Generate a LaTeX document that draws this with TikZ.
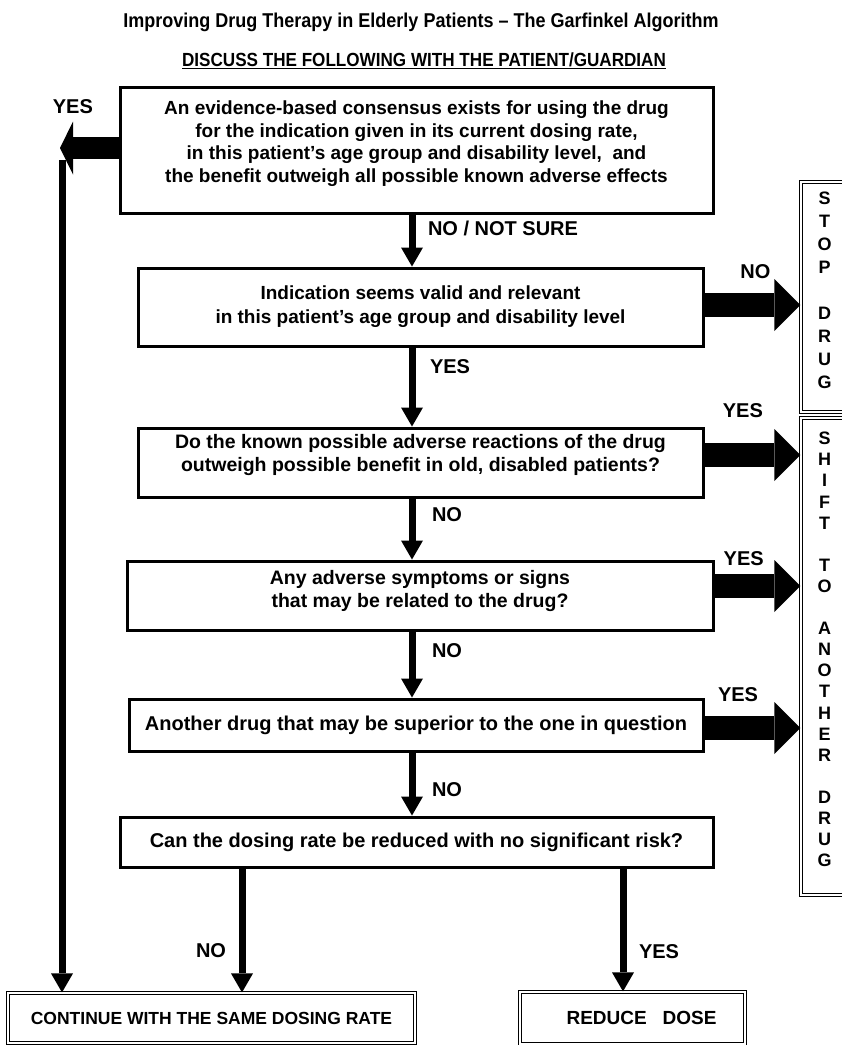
\documentclass[tikz,border=0pt]{standalone}
\usepackage{fontspec}
\setmainfont{Liberation Sans}
\newfontfamily\narrowfont[FakeStretch=0.9]{Liberation Sans}
\usetikzlibrary{arrows.meta,positioning,calc}
% lift a stack of centred lines inside a box
\newcommand{\liftby}[2]{\raisebox{#1}[\height][\depth]{\begin{tabular}{@{}c@{}}#2\end{tabular}}}

\begin{document}
\begin{tikzpicture}[x=1pt, y=-1pt,
  qbox/.style={draw, line width=3pt, align=center, inner sep=0pt,
               font=\fontsize{19.5}{23.5}\selectfont\bfseries},
  endbox/.style={draw, double, double distance=2pt, line width=1.2pt,
                 align=center, inner sep=0pt,
                 font=\fontsize{17.5}{21}\selectfont\bfseries},
  lbl/.style={font=\fontsize{20}{24}\selectfont\bfseries, inner sep=0pt, outer sep=0pt},
  downarr/.style={line width=7pt,
                  -{Triangle[length=19pt, width=22pt, line width=0pt]}},
  bigarr/.style={line width=24pt,
                 -{Triangle[length=26pt, width=52pt, line width=0pt]}}
]
\useasboundingbox (0,0) rectangle (842,1045);

%% Headings
\node[font=\narrowfont\fontsize{20}{24}\selectfont\bfseries] (title) at (421,22)
  {Improving Drug Therapy in Elderly Patients – The Garfinkel Algorithm};
\node[font=\narrowfont\fontsize{19}{24}\selectfont\bfseries] (discuss) at (424,61)
  {\underline{DISCUSS THE FOLLOWING WITH THE PATIENT/GUARDIAN}};

%% Question boxes
\node[qbox, minimum width=593pt, minimum height=126pt,
      font=\fontsize{19}{22.5}\selectfont\bfseries] (consensus) at (416.5,150)
  {\liftby{6pt}{An evidence-based consensus exists for using the drug\\
   for the indication given in its current dosing rate,\\
   in this patient’s age group and disability level,\ \ and\\
   the benefit outweigh all possible known adverse effects}};
\node[qbox, minimum width=565pt, minimum height=78pt,
      font=\fontsize{19}{24}\selectfont\bfseries] (indication) at (420.5,307)
  {Indication seems valid and relevant\\
   in this patient’s age group and disability level};
\node[qbox, minimum width=565pt, minimum height=69pt] (adverse) at (420.5,462.5)
  {\liftby{7pt}{Do the known possible adverse reactions of the drug\\
   outweigh possible benefit in old, disabled patients?}};
\node[qbox, minimum width=586pt, minimum height=69pt] (symptoms) at (420,595.5)
  {\liftby{4pt}{Any adverse symptoms or signs\\
   that may be related to the drug?}};
\node[qbox, minimum width=574pt, minimum height=52pt,
      font=\fontsize{20}{24}\selectfont\bfseries] (superior) at (416,725)
  {Another drug that may be superior to the one in question};
\node[qbox, minimum width=593pt, minimum height=50pt,
      font=\fontsize{20}{24}\selectfont\bfseries] (dosing) at (416.5,842)
  {Can the dosing rate be reduced with no significant risk?};

%% Outcome boxes
\node[endbox, minimum width=407pt, minimum height=50pt] (continue) at (211.5,1018)
  {CONTINUE WITH THE SAME DOSING RATE};
\node[endbox, minimum width=225pt, minimum height=52pt,
      font=\fontsize{19}{23}\selectfont\bfseries] (reduce) at (632.5,1018)
  {\hspace*{18pt}REDUCE\ \ \ DOSE};
\node[endbox, minimum width=47pt, minimum height=230pt,
      font=\fontsize{18}{23}\selectfont\bfseries] (stop) at (824.5,297)
  {\liftby{5pt}{S\\T\\O\\P\\[23pt]D\\R\\U\\G}};
\node[endbox, minimum width=47pt, minimum height=477pt,
      font=\fontsize{18}{21.1}\selectfont\bfseries] (shift) at (824.5,656.5)
  {\liftby{5pt}{S\\H\\I\\F\\T\\[21.1pt]T\\O\\[21.1pt]A\\N\\O\\T\\H\\E\\R\\[21.1pt]D\\R\\U\\G}};

%% Helper coordinates
\coordinate (spine)   at (412,0);
\coordinate (noleg)   at (242,0);
\coordinate (yesleg)  at (623,0);
\coordinate (yestip)  at (60,148);
\coordinate (yesdrop) at (62,160);

%% Main column
\draw[downarr] (spine |- consensus.south) --
  node[lbl, pos=0.27, anchor=west, xshift=16pt] {NO / NOT SURE}
  (spine |- indication.north);
\draw[downarr] (spine |- indication.south) --
  node[lbl, pos=0.24, anchor=west, xshift=18pt] {YES}
  (spine |- adverse.north);
\draw[downarr] (spine |- adverse.south) --
  node[lbl, pos=0.27, anchor=west, xshift=20pt] {NO}
  (spine |- symptoms.north);
\draw[downarr] (spine |- symptoms.south) --
  node[lbl, pos=0.29, anchor=west, xshift=20pt] {NO}
  (spine |- superior.north);
\draw[downarr] (spine |- superior.south) --
  node[lbl, pos=0.59, anchor=west, xshift=20pt] {NO}
  (spine |- dosing.north);

%% Final split
\draw[downarr] (noleg |- dosing.south) --
  node[lbl, pos=0.66, anchor=east, xshift=-16pt] {NO}
  (noleg |- continue.north);
\draw[downarr] (yesleg |- dosing.south) --
  node[lbl, pos=0.68, anchor=west, xshift=16pt] {YES}
  (yesleg |- reduce.north);

%% Left YES exit
\draw[line width=22pt, -{Triangle[length=13pt, width=53pt, line width=0pt]}]
  ([yshift=2pt]consensus.west) --
  node[lbl, pos=0.78, anchor=south, yshift=34pt] {YES} (yestip);
\draw[downarr] (yesdrop) -- (yesdrop |- continue.north);

%% Side exits
\draw[bigarr] ([yshift=2pt]indication.east) --
  node[lbl, pos=0.53, anchor=south, yshift=26pt] {NO}
  ([yshift=2pt]indication.east -| stop.west);
\draw[bigarr] ([yshift=7.5pt]adverse.east) --
  node[lbl, pos=0.4, anchor=south, yshift=37pt] {YES}
  ([yshift=7.5pt]adverse.east -| shift.west);
\draw[bigarr] ([yshift=9.5pt]symptoms.east) --
  node[lbl, pos=0.34, anchor=south, yshift=20pt] {YES}
  ([yshift=9.5pt]symptoms.east -| shift.west);
\draw[bigarr] ([yshift=-3pt]superior.east) --
  node[lbl, pos=0.35, anchor=south, yshift=26pt] {YES}
  ([yshift=-3pt]superior.east -| shift.west);

\end{tikzpicture}
\end{document}
